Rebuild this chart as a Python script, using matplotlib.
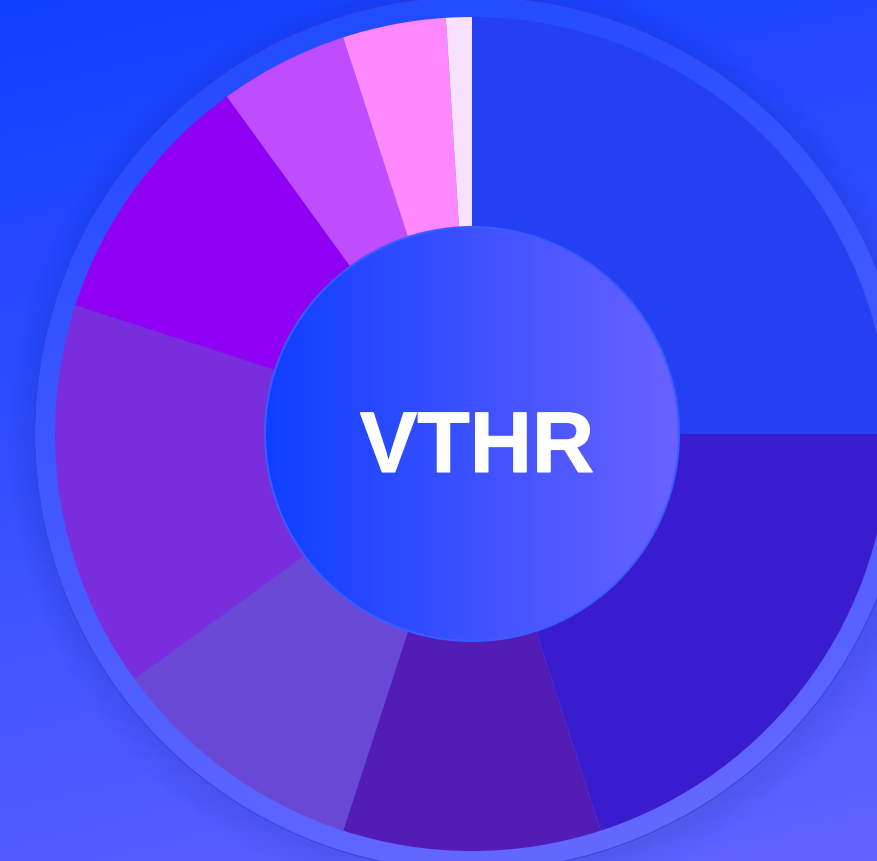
import numpy as np
import matplotlib
matplotlib.use('Agg')
import matplotlib.pyplot as plt
import matplotlib.patheffects as pe
from matplotlib.colors import LinearSegmentedColormap
from matplotlib.patches import Circle

# Data
shares = [25, 20, 10, 10, 15, 10, 5, 4, 1]
slice_colors = ['#2440f2', '#3a1ccf', '#521cb5', '#6a48d6', '#7a2ddc',
                '#9000f2', '#c04cff', '#ff88ff', '#f8e0ff']
center_label = 'VTHR'

W, H = 877, 862
cx, cy = 472, H - 435
r_out, r_in, r_ring = 417, 207, 437

fig = plt.figure(figsize=(W / 100, H / 100), dpi=100)
ax = fig.add_axes([0, 0, 1, 1])
ax.set_xlim(0, W)
ax.set_ylim(0, H)
ax.axis('off')

# background gradient (top blue -> bottom violet)
bg_cmap = LinearSegmentedColormap.from_list('bg', ['#1040ff', '#6262ff'])
yy, xx = np.mgrid[0:1:200j, 0:1:200j]
ax.imshow(0.8 * yy + 0.2 * xx, cmap=bg_cmap, extent=[0, W, 0, H],
          origin='upper', aspect='auto', zorder=0)

# soft shadow + translucent outer ring behind donut
for k in range(8):
    ax.add_patch(Circle((cx + 3, cy - 6), r_ring + 2 + 4 * k, color='#1a1a80',
                        alpha=0.012, linewidth=0, zorder=1))
ax.add_patch(Circle((cx, cy), r_ring, facecolor='#5060ff', edgecolor='#3440d8',
                    linewidth=0.7, zorder=2))
ring_img = ax.imshow(0.8 * yy + 0.2 * xx, cmap=bg_cmap, extent=[0, W, 0, H],
                     origin='upper', aspect='auto', zorder=2.1)
ring_img.set_clip_path(Circle((cx, cy), r_ring - 0.5, transform=ax.transData))
ax.add_patch(Circle((cx, cy), r_ring - 0.5, facecolor='white', alpha=0.05,
                    linewidth=0, zorder=2.2))

# donut
ax.pie(shares, colors=slice_colors, startangle=90, counterclock=False,
       center=(cx, cy), radius=r_out,
       wedgeprops=dict(width=r_out - r_in, linewidth=0, zorder=3))
ax.set_xlim(0, W)
ax.set_ylim(0, H)
ax.set_aspect('auto')

# inner gradient disc
in_cmap = LinearSegmentedColormap.from_list('inner', ['#0f40ff', '#6a62ff'])
grad = np.tile(np.linspace(0, 1, 256), (2, 1))
im = ax.imshow(grad, cmap=in_cmap, extent=[cx - r_in, cx + r_in, cy - r_in, cy + r_in],
               aspect='auto', zorder=4)
clip = Circle((cx, cy), r_in, transform=ax.transData)
im.set_clip_path(clip)
ax.add_patch(Circle((cx, cy), r_in, fill=False, edgecolor='#3a5cff', linewidth=1.5, zorder=5))
ax.set_xlim(0, W)
ax.set_ylim(0, H)

ax.text(cx + 5, cy - 16, center_label, ha='center', va='center', color='white',
        fontsize=62, fontweight='bold', family='Liberation Sans', zorder=6,
        path_effects=[pe.withStroke(linewidth=0.8, foreground='white')])

fig.savefig('out.png', dpi=100)
